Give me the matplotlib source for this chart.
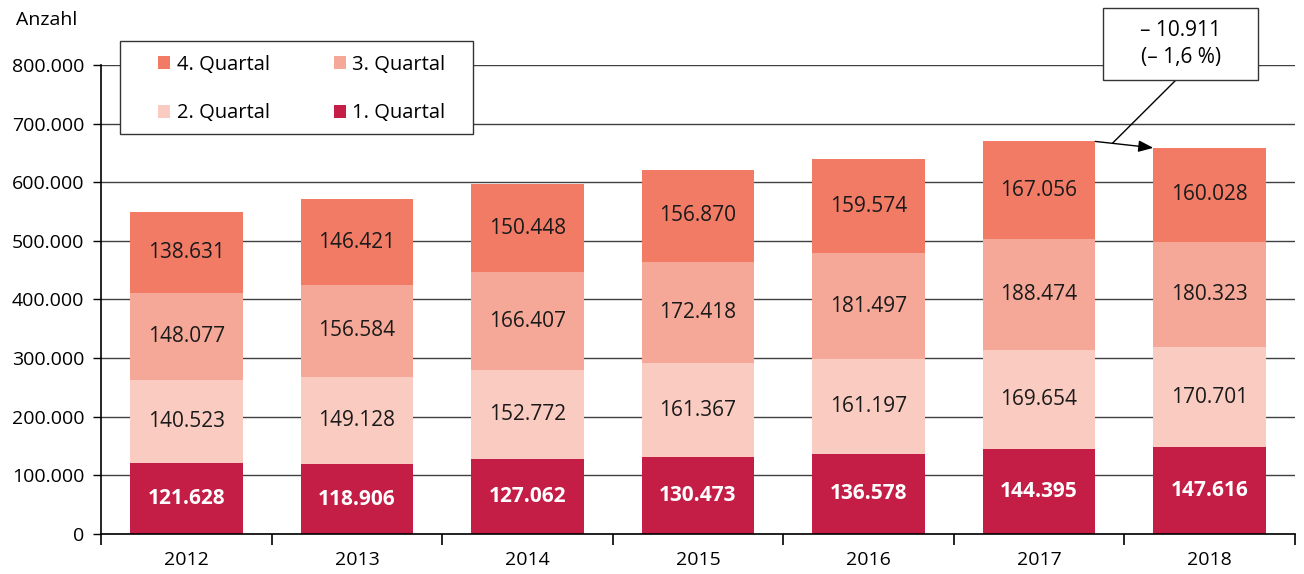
import matplotlib.pyplot as plt
import numpy as np
from matplotlib.ticker import FuncFormatter
from matplotlib.patches import Rectangle

plt.rcParams['font.family'] = ['Open Sans', 'DejaVu Sans']

years = ['2012', '2013', '2014', '2015', '2016', '2017', '2018']
q1 = [121628, 118906, 127062, 130473, 136578, 144395, 147616]
q2 = [140523, 149128, 152772, 161367, 161197, 169654, 170701]
q3 = [148077, 156584, 166407, 172418, 181497, 188474, 180323]
q4 = [138631, 146421, 150448, 156870, 159574, 167056, 160028]
labels = ['1. Quartal', '2. Quartal', '3. Quartal', '4. Quartal']
colors = ['#C41E47', '#FACBC0', '#F5A897', '#F27B66']


def fmt(v):
    return '{:,}'.format(int(v)).replace(',', '.')


W, H = 1304, 574
fig = plt.figure(figsize=(W / 100, H / 100), dpi=100)
ax = fig.add_axes([0.0775, 0.0697, 0.9155, 0.8171])

x = np.arange(len(years))
w = 0.66
bottom = np.zeros(len(years))
bars = []
for vals, lab, col in zip([q1, q2, q3, q4], labels, colors):
    b = ax.bar(x, vals, w, bottom=bottom, color=col, label=lab, zorder=2)
    bars.append(b)
    for xi, v, b0 in zip(x, vals, bottom):
        if lab == '1. Quartal':
            ax.text(xi, b0 + v / 2, fmt(v), ha='center', va='center',
                    color='white', fontsize=15, fontweight='bold', zorder=3)
        else:
            ax.text(xi, b0 + v / 2, fmt(v), ha='center', va='center',
                    color='#1a1a1a', fontsize=15, zorder=3)
    bottom = bottom + np.array(vals)

ax.set_xlim(-0.5, len(years) - 0.5)
ax.set_ylim(0, 800000)
ax.set_yticks(np.arange(0, 800001, 100000))
ax.yaxis.set_major_formatter(FuncFormatter(lambda v, p: fmt(v)))
ax.grid(axis='y', color='#404040', linewidth=1)
ax.set_axisbelow(True)

ax.set_xticks(x)
ax.set_xticklabels(years)
ax.set_xticks(np.arange(-0.5, len(years)), minor=True)
ax.tick_params(axis='x', which='major', length=0, pad=12, labelsize=14)
ax.tick_params(axis='x', which='minor', length=8, width=1.2, direction='out')
ax.tick_params(axis='y', length=6, width=1, labelsize=14, pad=6)

for s in ['top', 'right']:
    ax.spines[s].set_visible(False)
ax.spines['left'].set_linewidth(1.2)
ax.spines['bottom'].set_linewidth(1.2)

fig.text(0.012, 0.965, 'Anzahl', fontsize=14, ha='left', va='center')

# legend: frame drawn separately, frameless legend inside
fig.patches.append(Rectangle((120 / W, 1 - 134 / H), 353 / W, 93 / H,
                             transform=fig.transFigure, fc='white',
                             ec='#333333', lw=1, zorder=5))
h = [bars[3], bars[1], bars[2], bars[0]]
l = [labels[3], labels[1], labels[2], labels[0]]
leg = fig.legend(h, l, ncol=2, loc='upper left',
                 bbox_to_anchor=(158 / W, 1 - 55 / H), borderaxespad=0,
                 fontsize=14.5, frameon=False, borderpad=0,
                 handlelength=0.62, handleheight=0.62, handletextpad=0.3,
                 labelspacing=1.4, columnspacing=3.2)
leg.set_zorder(6)

# change 2017 -> 2018
tot17 = bottom[5]
tot18 = bottom[6]
ax.annotate('', xy=(6 - w / 2, tot18), xytext=(5 + w / 2, tot17),
            arrowprops=dict(arrowstyle='-|>,head_length=0.9,head_width=0.35',
                            color='black', lw=1, shrinkA=0, shrinkB=0),
            annotation_clip=False, zorder=4)
t = 0.1 / (1 - w)
px = 5 + w / 2 + t * (1 - w)
py = tot17 + t * (tot18 - tot17)
box_x0, box_x1, box_y0, box_y1 = 5.377, 6.286, 774000, 897000
ax.add_patch(Rectangle((box_x0, box_y0), box_x1 - box_x0, box_y1 - box_y0,
                       fc='white', ec='#333333', lw=1, clip_on=False, zorder=5))
ax.text((box_x0 + box_x1) / 2, (box_y0 + box_y1) / 2, '– 10.911\n(– 1,6 %)',
        ha='center', va='center', fontsize=15, linespacing=1.35, zorder=6)
ax.annotate('', xy=(px, py), xytext=((box_x0 + box_x1) / 2 - 0.03, box_y0),
            arrowprops=dict(arrowstyle='-', color='black', lw=1, shrinkA=0, shrinkB=0),
            annotation_clip=False, zorder=4)

fig.savefig('out.png', dpi=100)
